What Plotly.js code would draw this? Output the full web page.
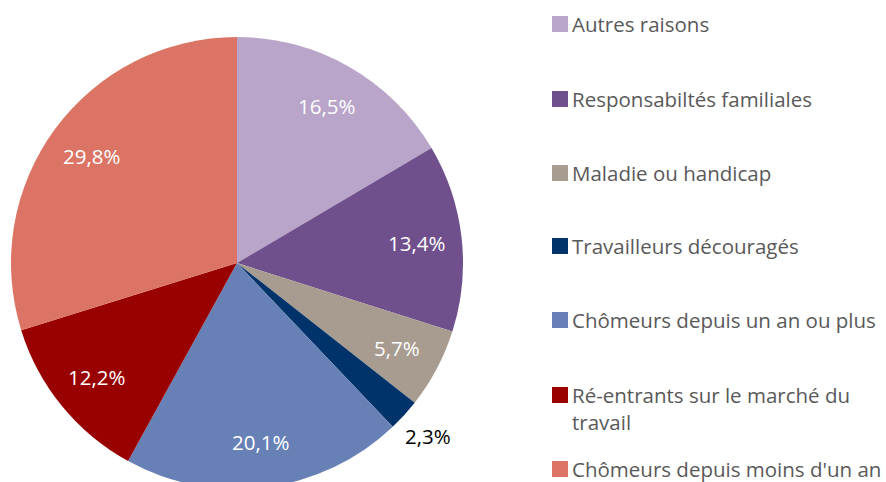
<!DOCTYPE html>
<html>
<head>
<meta charset="utf-8">
<script src="https://cdn.plot.ly/plotly-3.0.1.min.js"></script>
<style>
html,body{margin:0;padding:0;overflow:hidden;background:#fff;width:886px;height:482px;}
#chart{width:886px;height:490px;}
</style>
</head>
<body>
<div id="chart"></div>
<script>
const categories = ["Autres raisons", "Responsabiltés familiales", "Maladie ou handicap", "Travailleurs découragés", "Chômeurs depuis un an ou plus", "Ré-entrants sur le marché du<br>travail", "Chômeurs depuis moins d'un an"];
const values = [16.5, 13.4, 5.7, 2.3, 20.1, 12.2, 29.8];
const colors = ["#B9A4CA", "#6F508C", "#A89C90", "#00336A", "#6781B7", "#990000", "#DB7464"];
const labelOutside = [false, false, false, true, false, false, false];
const legendY = [24, 99, 173, 246, 320, 395, 469];

const W = 886, H = 490;
const FONT = "Open Sans, Liberation Sans, sans-serif";
// pie geometry (pixels)
const CX = 237, CY = 263, R = 226;

const trace = {
  type: "pie",
  labels: categories,
  values: values,
  sort: false,
  direction: "clockwise",
  rotation: 0,
  marker: {colors: colors, line: {width: 0}},
  textinfo: "none",
  showlegend: false,
  hoverinfo: "none",
  domain: {x: [(CX - R) / W, (CX + R) / W], y: [1 - (CY + R) / H, 1 - (CY - R) / H]}
};

const annotations = [];
const shapes = [];

// data labels, placed at the middle angle of each slice
const total = values.reduce((a, b) => a + b, 0);
let cum = 0;
values.forEach((v, i) => {
  const mid = (cum + v / 2) / total * 2 * Math.PI;
  cum += v;
  const r = labelOutside[i] ? R * 1.14 : R * 0.8;
  const px = CX + r * Math.sin(mid);
  const py = CY - r * Math.cos(mid);
  annotations.push({
    xref: "paper", yref: "paper",
    x: px / W, y: 1 - py / H,
    xanchor: "center", yanchor: "middle",
    text: (v / total * 100).toFixed(1).replace(".", ",") + "%",
    showarrow: false,
    font: {family: FONT, size: 20.5, color: labelOutside[i] ? "#000000" : "#ffffff"}
  });
});

// legend
categories.forEach((c, i) => {
  const multi = c.indexOf("<br>") >= 0;
  const yc = legendY[i];
  shapes.push({
    type: "rect", xref: "paper", yref: "paper",
    x0: 552 / W, x1: 568 / W,
    y0: 1 - (yc + 8) / H, y1: 1 - (yc - 8) / H,
    fillcolor: colors[i], line: {width: 0}
  });
  annotations.push({
    xref: "paper", yref: "paper",
    x: 570 / W, y: multi ? 1 - (yc - 16) / H : 1 - yc / H,
    xanchor: "left", yanchor: multi ? "top" : "middle", align: "left",
    text: c, showarrow: false,
    font: {family: FONT, size: 20.5, color: "#595959"}
  });
});

const layout = {
  width: W, height: H,
  margin: {l: 0, r: 0, t: 0, b: 0},
  separators: ", ",
  paper_bgcolor: "#ffffff",
  showlegend: false,
  shapes: shapes,
  annotations: annotations
};

Plotly.newPlot("chart", [trace], layout, {displayModeBar: false, staticPlot: true});
</script>
</body>
</html>
